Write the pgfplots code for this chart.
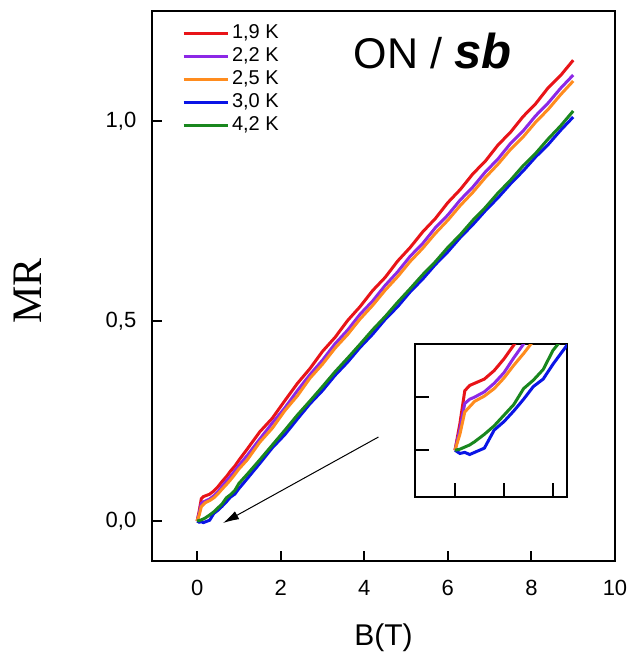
\documentclass[border=0pt]{standalone}
\usepackage{fontspec}
\setmainfont{Liberation Sans}
\newfontfamily\serif{Liberation Serif}
\usepackage{pgfplots}
\pgfplotsset{compat=1.18}
\usepackage{pgfplotstable}
\usetikzlibrary{arrows.meta}

\definecolor{cRed}{RGB}{232,20,24}
\definecolor{cPurple}{RGB}{140,40,230}
\definecolor{cOrange}{RGB}{255,140,30}
\definecolor{cBlue}{RGB}{10,20,230}
\definecolor{cGreen}{RGB}{25,135,30}

% B(T), MR at 1.9 K, 2.2 K, 2.5 K, 3.0 K, 4.2 K
\pgfplotstableread{
B    r      p      o      b      g
0    0      0      0      0      0
0.05 0.025  0.020  0.015  -0.003 0.001
0.1  0.056  0.044  0.036  -0.002 0.003
0.15 0.061  0.048  0.041  -0.004 0.005
0.2  0.063  0.050  0.046  -0.002 0.008
0.3  0.067  0.055  0.051  0.002  0.015
0.4  0.075  0.063  0.058  0.019  0.023
0.5  0.086  0.073  0.068  0.027  0.033
0.6  0.099  0.087  0.080  0.037  0.043
0.7  0.111  0.100  0.091  0.048  0.058
0.8  0.125  0.112  0.103  0.060  0.066
0.9  0.137  0.125  0.116  0.067  0.076
1.0  0.152  0.139  0.130  0.081  0.094
1.2  0.180  0.164  0.153  0.106  0.117
1.5  0.223  0.205  0.197  0.144  0.153
1.8  0.257  0.245  0.232  0.183  0.190
2.1  0.301  0.283  0.276  0.216  0.227
2.4  0.344  0.326  0.313  0.255  0.265
2.7  0.381  0.366  0.357  0.293  0.300
3.0  0.424  0.402  0.392  0.326  0.336
3.3  0.459  0.443  0.432  0.364  0.373
3.6  0.501  0.477  0.466  0.397  0.407
3.9  0.536  0.517  0.505  0.434  0.442
4.2  0.576  0.550  0.539  0.467  0.478
4.5  0.609  0.589  0.577  0.504  0.511
4.8  0.650  0.623  0.611  0.536  0.547
5.1  0.684  0.662  0.649  0.573  0.581
5.4  0.723  0.694  0.682  0.605  0.616
5.7  0.756  0.733  0.719  0.641  0.648
6.0  0.796  0.765  0.752  0.673  0.684
6.3  0.829  0.803  0.789  0.709  0.716
6.6  0.868  0.835  0.822  0.741  0.752
6.9  0.900  0.873  0.859  0.776  0.784
7.2  0.940  0.905  0.892  0.808  0.820
7.5  0.972  0.944  0.929  0.843  0.852
7.8  1.011  0.975  0.960  0.875  0.888
8.1  1.043  1.013  0.997  0.910  0.919
8.4  1.083  1.045  1.029  0.941  0.955
8.7  1.114  1.082  1.066  0.977  0.988
9.0  1.152  1.115  1.100  1.010  1.025
}\mrdata

\begin{document}
\begin{tikzpicture}
\path[use as bounding box] (-76pt,-47pt) rectangle (239pt,280.5pt);

\begin{axis}[
    scale only axis,
    width=231.5pt, height=275pt,
    xmin=-1.08, xmax=10,
    ymin=-0.1, ymax=1.275,
    xtick={0,2,4,6,8,10},
    ytick={0,0.5,1},
    xtick pos=bottom, ytick pos=left,
    tick align=inside,
    major tick length=5pt,
    axis line style={line width=1pt},
    tick style={line width=1pt, black},
    ticklabel style={font=\fontsize{11}{13}\selectfont},
    /pgf/number format/assume math mode=true,
    yticklabel style={/pgf/number format/fixed, /pgf/number format/fixed zerofill,
        /pgf/number format/precision=1, /pgf/number format/use comma, xshift=-4.3pt},
    xticklabel style={yshift=-6pt},
    xlabel={B(T)},
    xlabel style={font=\fontsize{15}{18}\selectfont, at={(axis description cs:0.5,0)}, anchor=center, yshift=-38.5pt},
    ylabel={MR},
    ylabel style={font=\serif\fontsize{21}{24}\selectfont, at={(axis description cs:-0.269,0.491)}, anchor=center},
    every axis plot/.append style={line width=1.5pt},
    legend image code/.code={\draw[#1] (0pt,0pt) -- (22pt,0pt);},
    legend cell align=left,
    legend style={draw=none, fill=none, at={(axis description cs:0.064,0.976)}, anchor=north west,
        font=\fontsize{10}{12}\selectfont, inner sep=0pt, row sep=2.5pt,
        nodes={inner xsep=1.5pt, inner ysep=0pt, text height=7pt, text depth=2pt}},
]
\addplot[cRed]    table[x=B, y=r] {\mrdata};
\addplot[cPurple] table[x=B, y=p] {\mrdata};
\addplot[cOrange] table[x=B, y=o] {\mrdata};
\addplot[cBlue]   table[x=B, y=b] {\mrdata};
\addplot[cGreen]  table[x=B, y=g] {\mrdata};
\legend{{1,9 K}, {2,2 K}, {2,5 K}, {3,0 K}, {4,2 K}}

\node[anchor=base west, inner sep=0pt] at (axis cs:3.74,1.1325)
    {\fontsize{21.5}{24}\selectfont ON / {\fontsize{24.5}{28}\selectfont\bfseries\itshape sb}};
\draw[line width=0.5pt, -{Latex[length=8pt,width=4.5pt]}] (axis cs:4.34,0.21) -- (axis cs:0.62,-0.005);
\end{axis}

\begin{axis}[
    at={(131.5pt,32pt)}, anchor=south west,
    scale only axis,
    width=76pt, height=76.5pt,
    xmin=-0.408, xmax=1.143,
    ymin=-0.044, ymax=0.1,
    xtick={0,0.5,1}, ytick={0,0.05,0.1},
    xticklabels={}, yticklabels={},
    xtick pos=bottom, ytick pos=left,
    tick align=inside,
    major tick length=7pt,
    axis line style={line width=1pt},
    tick style={line width=1pt, black},
    axis background/.style={fill=white},
    every axis plot/.append style={line width=1.5pt},
]
\addplot[cRed]    table[x=B, y=r] {\mrdata};
\addplot[cPurple] table[x=B, y=p] {\mrdata};
\addplot[cOrange] table[x=B, y=o] {\mrdata};
\addplot[cBlue]   table[x=B, y=b] {\mrdata};
\addplot[cGreen]  table[x=B, y=g] {\mrdata};
\end{axis}
\end{tikzpicture}
\end{document}
